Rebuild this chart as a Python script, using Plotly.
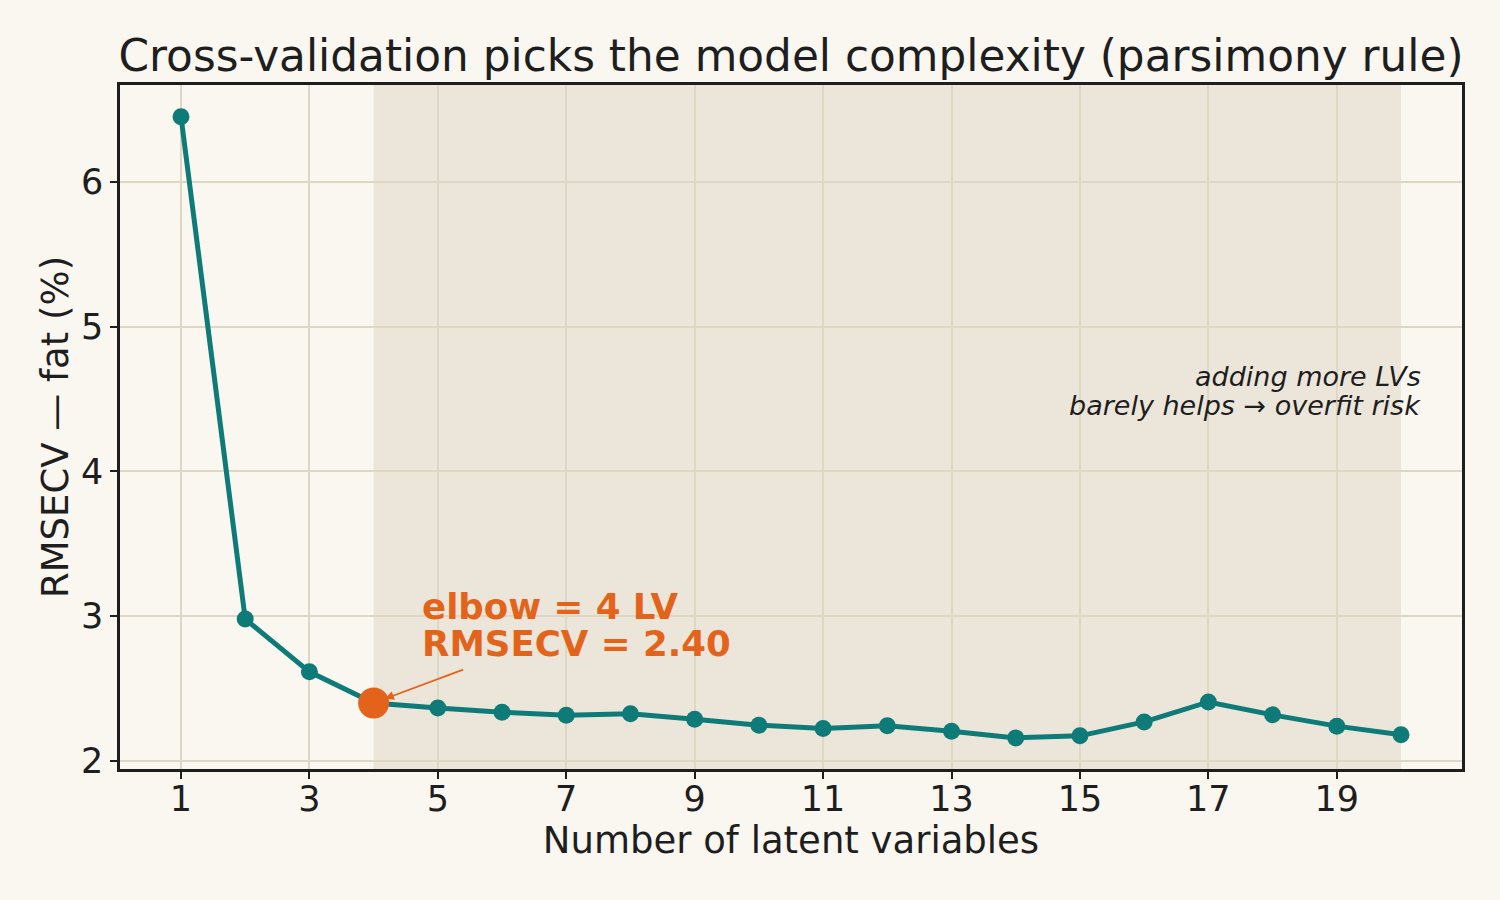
import plotly.graph_objects as go

# ---- data ----
n_lv = list(range(1, 21))
rmsecv = [6.45, 2.98, 2.615, 2.40, 2.365, 2.336, 2.316, 2.325, 2.288, 2.247,
          2.223, 2.242, 2.205, 2.159, 2.173, 2.269, 2.407, 2.318, 2.240, 2.180]
elbow_lv = 4
elbow_val = 2.40
shade_start, shade_end = 4, 20
x_ticks = list(range(1, 20, 2))
y_ticks = [2, 3, 4, 5, 6]

# ---- styles ----
BG = "#f9f7f0"
SHADE = "#ece6da"
GRID = "#ddd7c4"
TEAL = "#0e7b78"
ORANGE = "#e4631a"
INK = "#1e1e1e"
FONT = "DejaVu Sans"

fig = go.Figure()

fig.add_shape(type="rect", xref="x", yref="paper", x0=shade_start, x1=shade_end,
              y0=0, y1=1, fillcolor=SHADE, line=dict(width=0), layer="below")

fig.add_trace(go.Scatter(x=n_lv, y=rmsecv, mode="lines+markers",
                         line=dict(color=TEAL, width=5),
                         marker=dict(color=TEAL, size=17),
                         showlegend=False, hoverinfo="skip"))
fig.add_trace(go.Scatter(x=[elbow_lv], y=[elbow_val], mode="markers",
                         marker=dict(color=ORANGE, size=31),
                         showlegend=False, hoverinfo="skip"))

# arrow
fig.add_annotation(x=elbow_lv, y=elbow_val, xref="x", yref="y", text="",
                   showarrow=True, ax=91, ay=-34, arrowcolor=ORANGE,
                   arrowwidth=1.8, arrowhead=2, arrowsize=1, standoff=12)
# elbow labels
fig.add_annotation(x=4.72, y=3.07, xref="x", yref="y", text=f"<b>elbow = {elbow_lv} LV</b>",
                   showarrow=False, xanchor="left", yanchor="middle",
                   font=dict(family=FONT, size=35.6, color=ORANGE))
fig.add_annotation(x=4.72, y=2.808, xref="x", yref="y", text=f"<b>RMSECV = {elbow_val:.2f}</b>",
                   showarrow=False, xanchor="left", yanchor="middle",
                   font=dict(family=FONT, size=35.6, color=ORANGE))
# note
fig.add_annotation(x=20.34, y=4.652, xref="x", yref="y", text="<i>adding more LVs</i>",
                   showarrow=False, xanchor="right", yanchor="middle",
                   font=dict(family=FONT, size=27, color=INK))
fig.add_annotation(x=20.34, y=4.458, xref="x", yref="y", text="<i>barely helps → overfit risk</i>",
                   showarrow=False, xanchor="right", yanchor="middle",
                   font=dict(family=FONT, size=27, color=INK))

axis_common = dict(showline=True, linewidth=2.5, linecolor=INK, mirror=True,
                   ticks="outside", ticklen=7, tickwidth=2, tickcolor=INK,
                   showgrid=True, gridcolor=GRID, gridwidth=1.6, zeroline=False,
                   tickfont=dict(family=FONT, size=35, color=INK))

fig.update_layout(
    width=1500, height=900,
    margin=dict(l=120, r=38, t=85, b=131),
    paper_bgcolor=BG, plot_bgcolor=BG,
    font=dict(family=FONT, color=INK),
    title=dict(text="Cross-validation picks the model complexity (parsimony rule)",
               x=0.5, xref="paper", xanchor="center",
               y=1 - 56 / 900, yref="container", yanchor="middle",
               font=dict(family=FONT, size=43.8, color=INK)),
    xaxis=dict(range=[0.05, 20.95], tickvals=x_ticks, ticklabelstandoff=-10,
               title=dict(text="Number of latent variables", standoff=1,
                          font=dict(family=FONT, size=37, color=INK)),
               **axis_common),
    yaxis=dict(range=[1.944, 6.669], tickvals=y_ticks,
               title=dict(text="RMSECV — fat (%)", standoff=2,
                          font=dict(family=FONT, size=37, color=INK)),
               **axis_common),
)

fig.write_html("out.html")
